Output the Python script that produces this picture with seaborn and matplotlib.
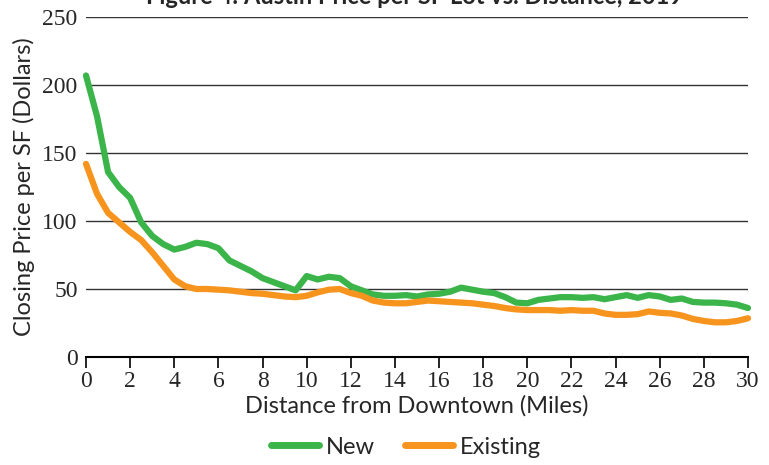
import matplotlib
matplotlib.use("Agg")
import matplotlib.pyplot as plt
import seaborn as sns
import numpy as np
import pandas as pd
from matplotlib.lines import Line2D

distance = [i * 0.5 for i in range(61)]
new_price = [207, 177, 136, 125, 117, 99, 89, 83, 79, 81,
             84, 83, 80, 71, 67, 63, 58, 55, 52, 49,
             59.5, 57, 59, 58, 52, 49, 46, 45, 45, 45.5,
             44.5, 46, 46.5, 48, 51, 49.5, 48, 47, 44, 40,
             39.5, 42, 43, 44, 44, 43.5, 44, 42.5, 44, 45.5,
             43.5, 45.5, 44.5, 42, 43, 40.5, 40, 40, 39.5, 38.5,
             36]
existing_price = [142, 120, 106, 99, 92, 86, 77, 67, 57, 52,
                  50, 50, 49.5, 49, 48, 47, 46.5, 45.5, 44.5, 44,
                  45, 47.5, 49.5, 50, 47, 45, 41.5, 40, 39.5, 39.5,
                  40.5, 41.5, 41, 40.5, 40, 39.5, 38.5, 37.5, 36, 35,
                  34.5, 34.5, 34.5, 34, 34.5, 34, 34, 32, 31, 31,
                  31.5, 33.5, 32.5, 32, 30.5, 28, 26.5, 25.5, 25.5, 26.5,
                  28.5]
series_names = ["New", "Existing"]
colors = ["#3BB54A", "#F7941D"]
y_ticks = [0, 50, 100, 150, 200, 250]
x_ticks = list(range(0, 31, 2))

df = pd.concat([
    pd.DataFrame({"Distance": distance, "Price": new_price, "Series": series_names[0]}),
    pd.DataFrame({"Distance": distance, "Price": existing_price, "Series": series_names[1]}),
])

sns.set_style("white")
fig = plt.figure(figsize=(7.69, 4.65), dpi=100)
ax = fig.add_axes([86 / 769, 1 - 357 / 465, (748 - 86) / 769, (357 - 17) / 465])

sns.lineplot(data=df, x="Distance", y="Price", hue="Series",
             palette=dict(zip(series_names, colors)), linewidth=4.5,
             ax=ax, legend=False, solid_capstyle="round")
for ln in ax.get_lines():
    ln.set_clip_on(False)
    ln.set_solid_joinstyle("round")

ax.set_xlim(0, 30)
ax.set_ylim(0, 250)
ax.set_yticks(y_ticks)
ax.set_xticks(x_ticks)
for v in y_ticks[1:]:
    ax.axhline(v, color="#333333", linewidth=1.0, zorder=0)

for s in ["top", "right", "left"]:
    ax.spines[s].set_visible(False)
ax.spines["bottom"].set_color("black")
ax.spines["bottom"].set_linewidth(1.5)

tick_font = {"family": "Liberation Serif", "size": 17}
ax.set_yticklabels([str(v) for v in y_ticks], fontdict=tick_font)
ax.set_xticklabels([str(v) for v in x_ticks], fontdict=tick_font)
ax.tick_params(axis="y", length=0, pad=6)
ax.tick_params(axis="x", length=8, width=1.2, color="black", pad=2, direction="out", bottom=True)

label_font = {"family": "Lato", "size": 17}
ax.set_xlabel("Distance from Downtown (Miles)", fontdict=label_font, labelpad=2)
ax.set_ylabel("Closing Price per SF (Dollars)", fontdict=label_font, labelpad=5)

handles = [Line2D([0], [0], color=c, linewidth=5) for c in colors]
fig.legend(handles, series_names, loc="center", bbox_to_anchor=(406 / 769, 1 - 447 / 465),
           ncol=2, frameon=False, prop={"family": "Lato", "size": 17},
           handlelength=2.0, handletextpad=0.3, columnspacing=1.3)

fig.text(415 / 769, 1 - 4 / 465, "Figure 4: Austin Price per SF Lot vs. Distance, 2019",
         ha="center", va="baseline", fontsize=17, fontweight="bold", family="Lato")

fig.savefig("out.png", dpi=100)
